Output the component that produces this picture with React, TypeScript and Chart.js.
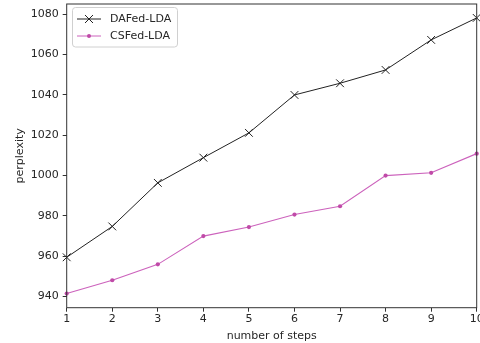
import React, { useEffect, useRef } from "react";
import { Chart, registerables } from "chart.js";

Chart.register(...registerables);

const steps = ["1", "2", "3", "4", "5", "6", "7", "8", "9", "10"];
const dafedLda = [959.5, 974.8, 996.4, 1008.9, 1021.2, 1040.0, 1045.8, 1052.4, 1067.3, 1078.2];
const csfedLda = [941.5, 948.1, 956.0, 970.0, 974.5, 980.7, 984.8, 1000.0, 1001.4, 1010.9];
const yTicks = [940, 960, 980, 1000, 1020, 1040, 1060, 1080];
const seriesNames = ["DAFed-LDA", "CSFed-LDA"];

const FONT = "'DejaVu Sans', sans-serif";
const FS = 11;
const TEXT = "#262626";
const PINK_LINE = "#cc62bc";
const PINK_MARK = "#c04aa8";

const zeroPad = () => ({ left: 0, top: 0, right: 0, bottom: 0 });

const framePlugin = {
  id: "frame",
  afterDraw(chart: any) {
    const { ctx, chartArea: a } = chart;
    ctx.save();
    ctx.strokeStyle = "#333";
    ctx.lineWidth = 1;
    ctx.strokeRect(a.left, a.top, a.right - a.left, a.bottom - a.top);

    // legend
    const bx = 72.5, by = 7.5, bw = 105, bh = 39.5, r = 3;
    ctx.fillStyle = "rgba(255,255,255,0.85)";
    ctx.strokeStyle = "#d0d0d0";
    ctx.beginPath();
    ctx.moveTo(bx + r, by);
    ctx.lineTo(bx + bw - r, by);
    ctx.arcTo(bx + bw, by, bx + bw, by + r, r);
    ctx.lineTo(bx + bw, by + bh - r);
    ctx.arcTo(bx + bw, by + bh, bx + bw - r, by + bh, r);
    ctx.lineTo(bx + r, by + bh);
    ctx.arcTo(bx, by + bh, bx, by + bh - r, r);
    ctx.lineTo(bx, by + r);
    ctx.arcTo(bx, by, bx + r, by, r);
    ctx.closePath();
    ctx.fill();
    ctx.stroke();

    const rows = [19, 36];
    ctx.strokeStyle = "#222";
    ctx.lineWidth = 1;
    ctx.beginPath();
    ctx.moveTo(77, rows[0]);
    ctx.lineTo(101, rows[0]);
    ctx.stroke();
    ctx.beginPath();
    ctx.moveTo(85, rows[0] - 4);
    ctx.lineTo(93, rows[0] + 4);
    ctx.moveTo(85, rows[0] + 4);
    ctx.lineTo(93, rows[0] - 4);
    ctx.stroke();
    ctx.strokeStyle = PINK_LINE;
    ctx.beginPath();
    ctx.moveTo(77, rows[1]);
    ctx.lineTo(101, rows[1]);
    ctx.stroke();
    ctx.fillStyle = PINK_MARK;
    ctx.beginPath();
    ctx.arc(89, rows[1], 2, 0, Math.PI * 2);
    ctx.fill();

    ctx.fillStyle = TEXT;
    ctx.font = `${FS}px ${FONT}`;
    ctx.textBaseline = "middle";
    ctx.textAlign = "left";
    ctx.fillText(seriesNames[0], 110, rows[0]);
    ctx.fillText(seriesNames[1], 110, rows[1]);
    ctx.restore();
  },
};

export default function App() {
  const ref = useRef<HTMLCanvasElement | null>(null);
  useEffect(() => {
    document.body.style.margin = "0";
    const chart = new Chart(ref.current as HTMLCanvasElement, {
      type: "line",
      data: {
        labels: steps,
        datasets: [
          {
            label: seriesNames[0],
            data: dafedLda,
            borderColor: "#222",
            borderWidth: 1,
            pointStyle: "crossRot",
            pointRadius: 5.5,
            pointBorderColor: "#222",
            pointBorderWidth: 1,
            tension: 0,
            fill: false,
            clip: false,
          },
          {
            label: seriesNames[1],
            data: csfedLda,
            borderColor: PINK_LINE,
            borderWidth: 1.1,
            pointStyle: "circle",
            pointRadius: 2.1,
            pointBackgroundColor: PINK_MARK,
            pointBorderColor: PINK_MARK,
            pointBorderWidth: 0,
            tension: 0,
            fill: false,
            clip: false,
          },
        ],
      },
      options: {
        animation: false,
        responsive: false,
        devicePixelRatio: 1,
        layout: { autoPadding: false, padding: { left: 0, right: 3.3, top: 4, bottom: 0 } },
        plugins: { legend: { display: false }, tooltip: { enabled: false } },
        scales: {
          x: {
            offset: false,
            grid: {
              display: true,
              drawOnChartArea: false,
              drawTicks: true,
              tickLength: 4,
              color: "#333",
            },
            border: { display: false },
            ticks: {
              color: TEXT,
              font: { family: FONT, size: FS },
              padding: 1,
              maxRotation: 0,
              autoSkip: false,
            },
            title: {
              display: true,
              text: "number of steps",
              color: TEXT,
              font: { family: FONT, size: FS },
              padding: { top: 0, bottom: 0 },
            },
            afterFit(scale: any) {
              scale.height = 35.3;
              scale.paddingLeft = 0;
              scale.paddingRight = 0;
              scale.getPadding = zeroPad;
            },
          },
          y: {
            min: 934.5,
            max: 1085.1,
            grid: {
              display: true,
              drawOnChartArea: false,
              drawTicks: true,
              tickLength: 4,
              color: "#333",
            },
            border: { display: false },
            ticks: {
              color: TEXT,
              font: { family: FONT, size: FS },
              padding: 4,
              callback: (v: any) => String(v),
            },
            afterBuildTicks(scale: any) {
              scale.ticks = yTicks.map((v) => ({ value: v }));
            },
            title: {
              display: true,
              text: "perplexity",
              color: TEXT,
              font: { family: FONT, size: FS },
              padding: { top: 13.4, bottom: 0 },
            },
            afterFit(scale: any) {
              scale.width = 66.7;
              scale.paddingTop = 0;
              scale.paddingBottom = 0;
              scale.getPadding = zeroPad;
            },
          },
        },
      },
      plugins: [framePlugin],
    });
    return () => chart.destroy();
  }, []);
  return (
    <div style={{ position: "absolute", left: 0, top: 0, width: 480, height: 343, overflow: "hidden" }}>
      <canvas ref={ref} width={480} height={343} style={{ display: "block" }} />
    </div>
  );
}
